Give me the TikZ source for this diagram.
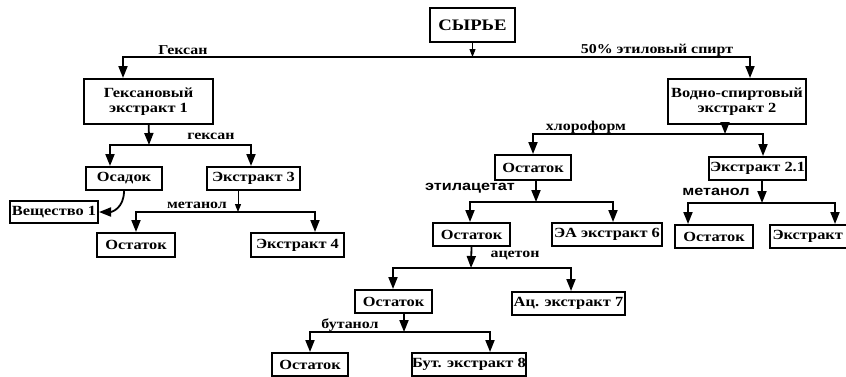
\documentclass[tikz,border=0pt]{standalone}
\usepackage{fontspec}
\setmainfont{Liberation Serif}[FakeStretch=1.17]
\newfontfamily\lsans{Liberation Sans}[FakeStretch=1.2]
\usetikzlibrary{arrows.meta}
\begin{document}
\begin{tikzpicture}[x=1pt,y=-1pt,
 box/.style={draw, line width=2pt, inner sep=0pt, font=\bfseries\fontsize{14}{15.5}\selectfont, align=center},
 lbl/.style={font=\bfseries\fontsize{13.6}{14}\selectfont, inner sep=0pt},
 slbl/.style={font=\lsans\bfseries\fontsize{13.5}{14}\selectfont, inner sep=0pt},
 conn/.style={line width=1.8pt},
 arr/.style={conn, -{Triangle[length=12pt,width=9pt]}},
 thinarr/.style={line width=1pt, -{Triangle[length=8pt,width=6pt]}}]
\useasboundingbox (0,0) rectangle (846,376);
\clip (0,0) rectangle (846,376);
% boxes
\node[box, minimum width=85pt, minimum height=34pt, font=\bfseries\fontsize{16}{18}\selectfont] (syr) at (472.5,25) {СЫРЬЕ};
\node[box, minimum width=129pt, minimum height=45pt] (g1) at (148.5,101.5) {Гексановый\\экстракт 1};
\node[box, minimum width=138pt, minimum height=45pt] (v2) at (737,101.5) {Водно-спиртовый\\экстракт 2};
\node[box, minimum width=76pt, minimum height=23pt] (osadok) at (124,178.5) {Осадок};
\node[box, minimum width=93pt, minimum height=23pt] (e3) at (253.5,178.5) {Экстракт 3};
\node[box, minimum width=88pt, minimum height=22pt] (vesh) at (54,212) {Вещество 1};
\node[box, minimum width=78pt, minimum height=24pt] (ostA) at (136,245) {Остаток};
\node[box, minimum width=93pt, minimum height=24pt] (e4) at (297.5,245) {Экстракт 4};
\node[box, minimum width=76pt, minimum height=25pt] (ostB) at (533,167.5) {Остаток};
\node[box, minimum width=97pt, minimum height=23pt] (e21) at (757.5,168.5) {Экстракт 2.1};
\node[box, minimum width=77pt, minimum height=23pt] (ostC) at (471.5,234.5) {Остаток};
\node[box, minimum width=110pt, minimum height=23pt] (ea6) at (607,234.5) {ЭА экстракт 6};
\node[box, minimum width=78pt, minimum height=23pt] (ostD) at (714,236.5) {Остаток};
\node[box, minimum width=100pt, minimum height=23pt] (e22) at (820,236.5) {Экстракт 2.2};
\node[box, minimum width=77pt, minimum height=23pt] (ostE) at (393.5,301.5) {Остаток};
\node[box, minimum width=113pt, minimum height=23pt] (ac7) at (568.5,303.5) {Ац. экстракт 7};
\node[box, minimum width=76pt, minimum height=23pt] (ostF) at (310,364.5) {Остаток};
\node[box, minimum width=114pt, minimum height=23pt] (but8) at (469,364.5) {Бут. экстракт 8};
% labels
\node[lbl] (l1) at (183,50) {Гексан};
\node[lbl] (l2) at (657,50) {50\% этиловый спирт};
\node[lbl] (l3) at (211,136) {гексан};
\node[lbl] (l4) at (197,205) {метанол};
\node[lbl] (l5) at (586,127) {хлороформ};
\node[slbl] (l6) at (470,188) {этилацетат};
\node[slbl] (l7) at (716,192) {метанол};
\node[lbl] (l8) at (515,255) {ацетон};
\node[lbl] (l9) at (350,325) {бутанол};
% junctions
\coordinate (j0) at (472.5,57);
\coordinate (j1) at (149,145);
\coordinate (j2) at (238,212);
\coordinate (j3) at (725,134);
\coordinate (j4) at (536,202);
\coordinate (j5) at (762,203);
\coordinate (j6) at (471,268);
\coordinate (j7) at (404,332);
% connectors
\draw[thinarr] (syr) -- (j0);
\draw[arr] (j0) -| ([xshift=-25.5pt]g1.north);
\draw[arr] (j0) -| ([xshift=13pt]v2.north);
\draw[arr] (g1) -- (j1);
\draw[arr] (j1) -| ([xshift=-14pt]osadok.north);
\draw[arr] (j1) -| ([xshift=-2.5pt]e3.north);
\draw[arr] (osadok.south) .. controls (124,208) and (112,212) .. (vesh.east);
\draw[thinarr] ([xshift=-15.5pt]e3.south) -- (j2);
\draw[arr] (j2) -| (ostA.north);
\draw[arr] (j2) -| ([xshift=17.5pt]e4.north);
\draw[arr] ([xshift=-12pt]v2.south) -- (j3);
\draw[arr] (j3) -| (ostB.north);
\draw[arr] (j3) -| ([xshift=5.5pt]e21.north);
\draw[arr] ([xshift=3pt]ostB.south) -- (j4);
\draw[arr] (j4) -| ([xshift=-1.5pt]ostC.north);
\draw[arr] (j4) -| ([xshift=6pt]ea6.north);
\draw[arr] ([xshift=4.5pt]e21.south) -- (j5);
\draw[arr] (j5) -| ([xshift=-26pt]ostD.north);
\draw[arr] (j5) -| ([xshift=15pt]e22.north);
\draw[arr] (ostC.south) -- (j6);
\draw[arr] (j6) -| ([xshift=-0.5pt]ostE.north);
\draw[arr] (j6) -| ([xshift=2.5pt]ac7.north);
\draw[arr] ([xshift=10.5pt]ostE.south) -- (j7);
\draw[arr] (j7) -| (ostF.north);
\draw[arr] (j7) -| ([xshift=21pt]but8.north);
\end{tikzpicture}
\end{document}
